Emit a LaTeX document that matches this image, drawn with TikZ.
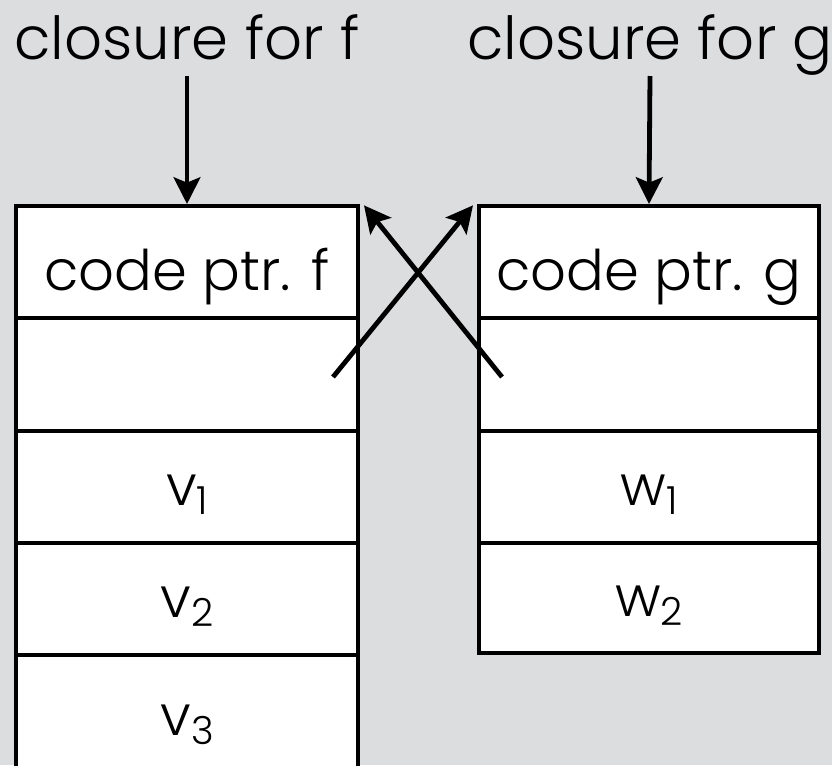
\documentclass[tikz,border=0pt]{standalone}
\usepackage{fontspec}
\setmainfont{Poppins Light}
\usetikzlibrary{arrows.meta}
\definecolor{bg}{HTML}{DCDDDF}
\tikzset{
  cell/.style={draw=black, line width=3pt, fill=white, minimum width=342*0.75pt, inner sep=0pt,
    font=\fontsize{42}{46}\selectfont, anchor=center, text depth=0pt, text height=27pt},
  head/.style={text height=42pt},
  lbl/.style={font=\fontsize{44.5}{48}\selectfont, anchor=base, inner sep=0pt},
  ptr/.style={line width=3.6pt, -{Stealth[length=20pt, width=20pt, inset=4pt]}},
}
\newcommand{\sub}[2]{#1\raisebox{-0.17em}{\fontsize{29}{31}\selectfont #2}}
\begin{document}
\begin{tikzpicture}[x=0.75pt,y=-0.75pt]
\fill[bg] (0,0) rectangle (832,765);
\useasboundingbox (0,0) rectangle (832,765);
% left closure
\node[cell, head, minimum height=112*0.75pt] (cf) at (187,262) {code ptr. f};
\node[cell, minimum height=113*0.75pt] (ef) at (187,374.5) {};
\node[cell, minimum height=112*0.75pt] (v1) at (187,487) {\sub{v}{1}};
\node[cell, minimum height=112*0.75pt] (v2) at (187,599) {\sub{v}{2}};
\node[cell, minimum height=124*0.75pt] (v3) at (187,717) {\sub{v}{3}};
% right closure
\node[cell, head, minimum width=340*0.75pt, minimum height=112*0.75pt] (cg) at (649,262) {code ptr. g};
\node[cell, minimum width=340*0.75pt, minimum height=113*0.75pt] (eg) at (649,374.5) {};
\node[cell, minimum width=340*0.75pt, minimum height=112*0.75pt] (w1) at (649,487) {\sub{w}{1}};
\node[cell, minimum width=340*0.75pt, minimum height=110*0.75pt] (w2) at (649,598) {\sub{w}{2}};
% labels
\node[lbl] (lf) at (187,59) {closure for f};
\node[lbl] (lg) at (650,59) {closure for g};
\coordinate (lfa) at (187,76);
\coordinate (lga) at (650,76);
\draw[ptr] (lfa) -- (cf.north);
\draw[ptr] (lga) -- (cg.north);
% cross pointers
\coordinate (sf) at (333,377);
\coordinate (sg) at (502,377);
\draw[ptr] (sf) -- ([xshift=-3pt,yshift=-1pt]cg.north west);
\draw[ptr] (sg) -- ([xshift=3pt,yshift=-1pt]cf.north east);
\end{tikzpicture}
\end{document}
